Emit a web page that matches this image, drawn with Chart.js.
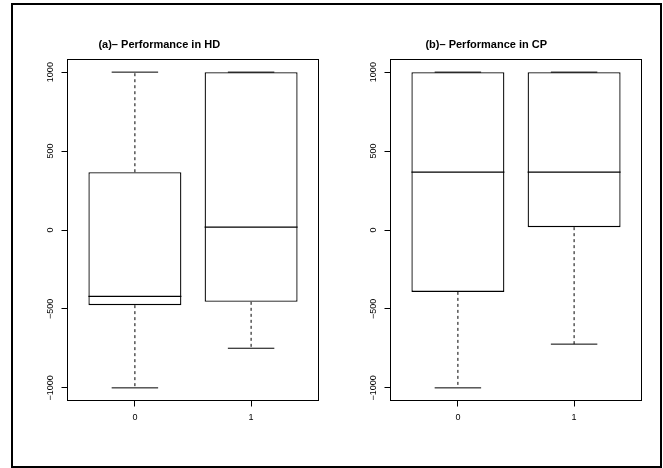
<!DOCTYPE html>
<html>
<head>
<meta charset="utf-8">
<script src="https://cdn.jsdelivr.net/npm/chart.js@4.4.1/dist/chart.umd.min.js"></script>
<style>
  html, body { margin: 0; padding: 0; background: #fff; }
  #page { position: relative; width: 663px; height: 468px; overflow: hidden; background: #fff; }
  #frame { position: absolute; left: 11px; top: 3px; width: 651px; height: 465px; box-sizing: border-box; border: 2px solid #000; }
  canvas { position: absolute; top: 0; }
  #panelA { left: 0; }
  #panelB { left: 331px; }
</style>
</head>
<body>
<div id="page">
  <div id="frame"></div>
  <canvas id="panelA" width="331" height="468"></canvas>
  <canvas id="panelB" width="332" height="468"></canvas>
</div>
<script>
// Group labels and their positions on the x axis
const groupLabels = ['0', '1'];
const groupPositions = [1, 2];
const yTickValues = [-1000, -500, 0, 500, 1000];

// (a) Performance in HD: five-number summaries per group
const hdMin    = [-1000, -749];
const hdQ1     = [-476, -455];
const hdMedian = [-421, 18];
const hdQ3     = [366, 1000];
const hdMax    = [1000, 1000];

// (b) Performance in CP
const cpMin    = [-1000, -723];
const cpQ1     = [-392, 18];
const cpMedian = [366, 366];
const cpQ3     = [1000, 1000];
const cpMax    = [1000, 1000];

const FONT = '"Liberation Sans", Arial, Helvetica, sans-serif';

// Turn a list of [x1, y1, x2, y2] segments into one line series broken by gaps
function segmentSeries(segs) {
  const pts = [];
  segs.forEach(([x1, y1, x2, y2]) => {
    pts.push({x: x1, y: y1}, {x: x2, y: y2}, {x: Math.max(x1, x2) + 0.05, y: null});
  });
  return pts;
}

// Box frame around the plot region
const plotFrame = {
  id: 'plotFrame',
  afterDraw(chart) {
    const {ctx, chartArea: a} = chart;
    ctx.save();
    ctx.strokeStyle = '#000';
    ctx.lineWidth = 1;
    ctx.strokeRect(a.left, a.top, a.right - a.left, a.bottom - a.top);
    ctx.restore();
  }
};

function makePanel(canvasId, title, st, geom) {
  const medians = segmentSeries(groupPositions.map((p, i) => [p - 0.4, st.median[i], p + 0.4, st.median[i]]));
  const capsHi  = segmentSeries(groupPositions.map((p, i) => [p - 0.2, st.max[i], p + 0.2, st.max[i]]));
  const capsLo  = segmentSeries(groupPositions.map((p, i) => [p - 0.2, st.min[i], p + 0.2, st.min[i]]));
  const whiskHi = segmentSeries(groupPositions.map((p, i) => [p, st.q3[i], p, st.max[i]]));
  const whiskLo = segmentSeries(groupPositions.map((p, i) => [p, st.q1[i], p, st.min[i]]));
  const boxes = groupPositions.map((p, i) => ({x: p, y: [st.q1[i], st.q3[i]]}));

  const lineBase = {
    type: 'line', borderColor: '#000', borderWidth: 1, pointRadius: 0,
    pointHoverRadius: 0, fill: false, tension: 0, spanGaps: false
  };

  new Chart(document.getElementById(canvasId), {
    type: 'bar',
    data: {
      datasets: [
        Object.assign({}, lineBase, {label: 'median', data: medians, borderWidth: 1.3}),
        Object.assign({}, lineBase, {label: 'upper cap', data: capsHi}),
        Object.assign({}, lineBase, {label: 'lower cap', data: capsLo}),
        Object.assign({}, lineBase, {label: 'upper whisker', data: whiskHi, borderDash: [3, 3]}),
        Object.assign({}, lineBase, {label: 'lower whisker', data: whiskLo, borderDash: [3, 3]}),
        {
          type: 'bar', label: 'box', data: boxes,
          backgroundColor: '#fff', borderColor: '#000', borderWidth: 1.3,
          borderSkipped: false, barPercentage: 1, categoryPercentage: 0.8
        }
      ]
    },
    options: {
      responsive: false,
      animation: false,
      devicePixelRatio: 1,
      events: [],
      layout: {padding: {left: 0, right: geom.padRight, top: 0, bottom: 0}},
      plugins: {
        legend: {display: false},
        tooltip: {enabled: false},
        title: {
          display: true, text: title, color: '#000',
          font: {family: FONT, size: 11, weight: 'bold', lineHeight: 1.2},
          padding: {top: 38.4, bottom: 7.9}
        }
      },
      scales: {
        x: {
          type: 'linear', min: 0.42, max: 2.58, offset: false,
          afterBuildTicks: (s) => { s.ticks = groupPositions.map(v => ({value: v})); },
          afterFit: (s) => { s.height = 67.5; },
          ticks: {
            color: '#000', padding: 6, maxRotation: 0, autoSkip: false,
            font: {family: FONT, size: 9},
            callback: (v) => groupLabels[groupPositions.indexOf(v)]
          },
          grid: {offset: false, drawOnChartArea: false, drawTicks: true, tickLength: 6, tickColor: '#000', tickWidth: 1},
          border: {display: false}
        },
        y: {
          type: 'linear', min: -1080, max: 1080,
          afterBuildTicks: (s) => { s.ticks = yTickValues.map(v => ({value: v})); },
          afterFit: (s) => { s.width = geom.yWidth; },
          ticks: {
            color: '#000', padding: -2, minRotation: 90, maxRotation: 90, crossAlign: 'center',
            font: {family: FONT, size: 9},
            callback: (v) => (v < 0 ? '\u2212' + Math.abs(v) : String(v))
          },
          grid: {drawOnChartArea: false, drawTicks: true, tickLength: 6, tickColor: '#000', tickWidth: 1},
          border: {display: false}
        }
      }
    },
    plugins: [plotFrame]
  });
}

makePanel('panelA', '(a)\u2013 Performance in HD',
  {min: hdMin, q1: hdQ1, median: hdMedian, q3: hdQ3, max: hdMax},
  {yWidth: 67.5, padRight: 12.5});

makePanel('panelB', '(b)\u2013 Performance in CP',
  {min: cpMin, q1: cpQ1, median: cpMedian, q3: cpQ3, max: cpMax},
  {yWidth: 59.5, padRight: 21.5});
</script>
</body>
</html>
